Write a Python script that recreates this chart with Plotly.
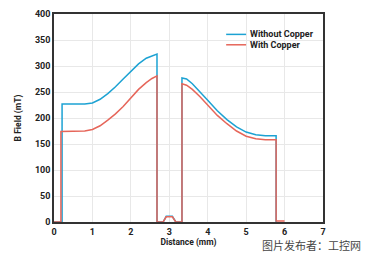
import plotly.graph_objects as go

x_without = [0, 0.21, 0.21, 0.5, 0.8, 1.0, 1.2, 1.4, 1.6, 1.8, 2.0, 2.2, 2.4, 2.55, 2.68, 2.68,
             2.84, 2.92, 3.08, 3.17, 3.33, 3.33, 3.45, 3.6, 3.8, 4.0, 4.25, 4.5, 4.75, 5.0, 5.25, 5.5, 5.78, 5.78]
y_without = [0, 0, 227, 227, 227, 229, 236, 247, 260, 275, 290, 304, 315, 320, 323, 0,
             0, 11, 11, 0, 0, 277, 275, 266, 251, 234, 214, 197, 183, 173, 168, 166, 166, 0]

x_with = [0, 0.18, 0.18, 0.5, 0.8, 1.0, 1.2, 1.4, 1.6, 1.8, 2.0, 2.2, 2.4, 2.55, 2.68, 2.68,
          2.84, 2.92, 3.08, 3.17, 3.33, 3.33, 3.45, 3.6, 3.8, 4.0, 4.25, 4.5, 4.75, 5.0, 5.25, 5.5, 5.78, 5.78, 6.0]
y_with = [0, 0, 174, 174, 175, 178, 185, 196, 208, 222, 238, 255, 268, 276, 281, 0,
          0, 10, 10, 0, 0, 266, 263, 255, 241, 225, 205, 189, 175, 165, 160, 158, 158, 2, 2]

series_names = ["Without Copper", "With Copper"]
series_colors = ["#1ca2d3", "#e6665a"]

x_ticks = [0, 1, 2, 3, 4, 5, 6, 7]
y_ticks = [0, 50, 100, 150, 200, 250, 300, 350, 400]

fig = go.Figure()
fig.add_trace(go.Scatter(x=x_without, y=y_without, mode="lines", name=series_names[0],
                         line=dict(color=series_colors[0], width=1.5)))
fig.add_trace(go.Scatter(x=x_with, y=y_with, mode="lines", name=series_names[1],
                         line=dict(color=series_colors[1], width=1.5)))

dark = "#222222"
fig.update_layout(
    width=366, height=254,
    margin=dict(l=54, r=43, t=9, b=31),
    paper_bgcolor="white", plot_bgcolor="white",
    font=dict(family="Roboto, DejaVu Sans, sans-serif", size=9, color=dark),
    showlegend=False,
    xaxis=dict(range=[0, 7], tickvals=x_ticks, showgrid=True, gridcolor="#e8e8e8", gridwidth=1,
               showline=True, linecolor="#333333", linewidth=1.5, mirror=True, zeroline=False,
               ticks="", tickfont=dict(size=9, weight="bold", color=dark),
               title=dict(text="Distance (mm)", font=dict(size=8.5, weight="bold", color=dark), standoff=3)),
    yaxis=dict(range=[0, 400], tickvals=y_ticks, showgrid=True, gridcolor="#e8e8e8", gridwidth=1,
               showline=True, linecolor="#333333", linewidth=1.5, mirror=True, zeroline=False,
               ticks="", tickfont=dict(size=9, weight="bold", color=dark),
               title=dict(text="B Field (mT)", font=dict(size=8.5, weight="bold", color=dark), standoff=12)),
)

# manual legend
leg_y = [0.902, 0.852]
for name, col, yy in zip(series_names, series_colors, leg_y):
    fig.add_shape(type="line", xref="paper", yref="paper", x0=0.640, x1=0.714, y0=yy, y1=yy,
                  line=dict(color=col, width=1.5))
    fig.add_annotation(text=name, xref="paper", yref="paper", x=0.72, y=yy, xanchor="left",
                       yanchor="middle", showarrow=False,
                       font=dict(size=9, weight="bold", color=dark))

fig.add_annotation(text="图片发布者：工控网", xref="paper", yref="paper", x=1.145, y=-0.1117,
                   xanchor="right", yanchor="middle", showarrow=False, borderpad=0,
                   font=dict(family="Noto Sans CJK SC", size=11, color="#444444"))

fig.write_html("out.html")
